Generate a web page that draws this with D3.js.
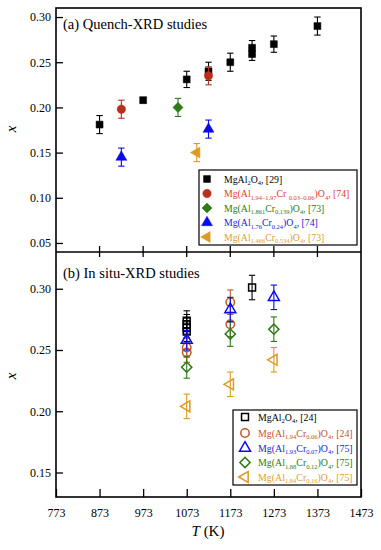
<!DOCTYPE html>
<html>
<head>
<meta charset="utf-8">
<script src="https://cdn.jsdelivr.net/npm/d3@7"></script>
<style>
  body { margin: 0; background: #fff; }
  svg { display: block; font-family: "Liberation Serif", "Times New Roman", serif; }
</style>
</head>
<body>
<svg id="chart" width="381" height="550"></svg>
<script>
// x axis ticks (K)
const tempTicks = [773, 873, 973, 1073, 1173, 1273, 1373, 1473];
const quenchTicks = [0.05, 0.10, 0.15, 0.20, 0.25, 0.30];
const insituTicks = [0.15, 0.20, 0.25, 0.30];

// (a) quench-XRD
const qMgAl2O4T = [873, 973, 1073, 1123, 1173, 1223, 1223, 1273, 1373];
const qMgAl2O4X = [0.181, 0.208, 0.231, 0.240, 0.250, 0.259, 0.266, 0.270, 0.290];
const qMgAl2O4E = [0.010, 0.003, 0.009, 0.010, 0.010, 0.007, 0.008, 0.009, 0.010];
const qCr006T = [923, 1123];
const qCr006X = [0.198, 0.235];
const qCr006E = [0.010, 0.010];
const qCr139T = [1053];
const qCr139X = [0.200];
const qCr139E = [0.010];
const qCr24T = [923, 1123];
const qCr24X = [0.145, 0.176];
const qCr24E = [0.010, 0.010];
const qCr534T = [1096];
const qCr534X = [0.150];
const qCr534E = [0.010];

// (b) in situ-XRD
const sMgAl2O4T = [1073, 1073, 1073, 1073, 1223];
const sMgAl2O4X = [0.274, 0.271, 0.268, 0.265, 0.301];
const sMgAl2O4E = [0.008, 0.008, 0.008, 0.008, 0.010];
const sCr06T = [1073, 1073, 1173, 1173];
const sCr06X = [0.252, 0.248, 0.289, 0.271];
const sCr06E = [0.008, 0.008, 0.010, 0.010];
const sCr07T = [1073, 1173, 1273];
const sCr07X = [0.258, 0.283, 0.293];
const sCr07E = [0.008, 0.010, 0.010];
const sCr12T = [1073, 1173, 1273];
const sCr12X = [0.236, 0.263, 0.267];
const sCr12E = [0.009, 0.010, 0.010];
const sCr16T = [1073, 1173, 1273];
const sCr16X = [0.204, 0.222, 0.242];
const sCr16E = [0.010, 0.010, 0.010];

const svg = d3.select('#chart');
const pLeft = 56, pRight = 361, pTop = 8, pMid = 252, pBottom = 497;

const x = d3.scaleLinear().domain([773, 1473]).range([pLeft, pRight]);
const ya = d3.scaleLinear().domain([0.04, 0.31]).range([pMid, pTop]);
const yb = d3.scaleLinear().domain([0.13, 0.33]).range([pBottom, pMid]);

const zip = (T, X, E) => T.map((t, i) => ({ t: t, x: X[i], e: E[i] }));

const shapes = {
    square: { type: d3.symbolSquare, size: 48, rot: 0 },
    circle: { type: d3.symbolCircle, size: 56, rot: 0 },
    diamond: { type: d3.symbolSquare, size: 52, rot: 45 },
    triangle: { type: d3.symbolTriangle, size: 52, rot: 0 },
    left: { type: d3.symbolTriangle, size: 52, rot: -90 }
};

const quenchSeries = [
    { name: 'sq', shape: 'square', color: '#000000', text: '#000000', pts: zip(qMgAl2O4T, qMgAl2O4X, qMgAl2O4E),
      label: [['MgAl'], ['2', 1], ['O'], ['4', 1], [', [29]']] },
    { name: 'ci', shape: 'circle', color: '#b8301c', text: '#d8402e', pts: zip(qCr006T, qCr006X, qCr006E),
      label: [['Mg(Al'], ['1.94\u20131.97', 1], ['Cr '], ['0.03\u20130.06', 1], [')O'], ['4', 1], [', [74]']] },
    { name: 'di', shape: 'diamond', color: '#2e7a16', text: '#2e7a16', pts: zip(qCr139T, qCr139X, qCr139E),
      label: [['Mg(Al'], ['1.861', 1], ['Cr'], ['0.139', 1], [')O'], ['4', 1], [', [73]']] },
    { name: 'tr', shape: 'triangle', color: '#0a0aee', text: '#1a1ae0', pts: zip(qCr24T, qCr24X, qCr24E),
      label: [['Mg(Al'], ['1.76', 1], ['Cr'], ['0.24', 1], [')O'], ['4', 1], [', [74]']] },
    { name: 'lt', shape: 'left', color: '#dc9a22', text: '#e0a030', pts: zip(qCr534T, qCr534X, qCr534E),
      label: [['Mg(Al'], ['1.466', 1], ['Cr'], ['0.534', 1], [')O'], ['4', 1], [', [73]']] }
];

const insituSeries = [
    { name: 'sq', shape: 'square', color: '#000000', text: '#000000', pts: zip(sMgAl2O4T, sMgAl2O4X, sMgAl2O4E),
      label: [['MgAl'], ['2', 1], ['O'], ['4', 1], [', [24]']] },
    { name: 'ci', shape: 'circle', color: '#c0582a', text: '#c8502e', pts: zip(sCr06T, sCr06X, sCr06E),
      label: [['Mg(Al'], ['1.94', 1], ['Cr'], ['0.06', 1], [')O'], ['4', 1], [', [24]']] },
    { name: 'di', shape: 'diamond', color: '#2e7a16', text: '#2e7a16', pts: zip(sCr12T, sCr12X, sCr12E),
      label: [['Mg(Al'], ['1.88', 1], ['Cr'], ['0.12', 1], [')O'], ['4', 1], [', [75]']] },
    { name: 'lt', shape: 'left', color: '#dc9a22', text: '#e0a030', pts: zip(sCr16T, sCr16X, sCr16E),
      label: [['Mg(Al'], ['1.84', 1], ['Cr'], ['0.16', 1], [')O'], ['4', 1], [', [75]']] },
    { name: 'tr', shape: 'triangle', color: '#0a0aee', text: '#1a1ae0', pts: zip(sCr07T, sCr07X, sCr07E),
      label: [['Mg(Al'], ['1.93', 1], ['Cr'], ['0.07', 1], [')O'], ['4', 1], [', [75]']] }
];
const insituLegendOrder = ['sq', 'ci', 'tr', 'di', 'lt'];

function symbolPath (shape) {
    return d3.symbol().type(shapes[shape].type).size(shapes[shape].size)();
}

function drawSeries (g, series, y, filled) {
    series.forEach(s => {
        const sg = g.append('g');
        const pts = sg.selectAll('g.pt').data(s.pts).enter().append('g').attr('class', 'pt');
        pts.append('line')
            .attr('x1', d => x(d.t)).attr('x2', d => x(d.t))
            .attr('y1', d => y(d.x - d.e)).attr('y2', d => y(d.x + d.e))
            .attr('stroke', s.color).attr('stroke-width', 1.1);
        [-1, 1].forEach(k => {
            pts.append('line')
                .attr('x1', d => x(d.t) - 3.2).attr('x2', d => x(d.t) + 3.2)
                .attr('y1', d => y(d.x + k * d.e)).attr('y2', d => y(d.x + k * d.e))
                .attr('stroke', s.color).attr('stroke-width', 1.1);
        });
        pts.append('path')
            .attr('d', symbolPath(s.shape))
            .attr('transform', d => `translate(${x(d.t)},${y(d.x)}) rotate(${shapes[s.shape].rot})`)
            .attr('fill', filled ? s.color : 'none')
            .attr('stroke', s.color)
            .attr('stroke-width', filled ? 0.5 : 1.5);
    });
}

// label parts: [text] or [text, 1] for a subscript
function legendText (el, parts, size) {
    parts.forEach((p, i) => {
        const prev = i > 0 ? (parts[i - 1][1] || 0) : 0;
        const cur = p[1] || 0;
        const t = el.append('tspan').text(p[0])
            .attr('dy', cur && !prev ? 2.5 : (!cur && prev ? -2.5 : 0));
        if (cur) t.attr('font-size', size * 0.66);
    });
}

function drawLegend (g, series, order, bx, by, bw, bh, mx, tx, ys, filled, fs) {
    g.append('rect').attr('x', bx).attr('y', by).attr('width', bw).attr('height', bh)
        .attr('fill', '#fff').attr('stroke', '#000').attr('stroke-width', 1.2);
    order.forEach((name, i) => {
        const s = series.find(d => d.name === name);
        g.append('path').attr('d', symbolPath(s.shape))
            .attr('transform', `translate(${mx},${ys[i]}) rotate(${shapes[s.shape].rot})`)
            .attr('fill', filled ? s.color : 'none')
            .attr('stroke', s.color).attr('stroke-width', filled ? 0.5 : 1.5);
        const t = g.append('text').attr('x', tx).attr('y', ys[i] + 3.5)
            .attr('font-size', fs).attr('fill', s.text);
        legendText(t, s.label, fs);
    });
}

// panel a
const ga = svg.append('g');
ga.append('g').attr('transform', `translate(${pLeft},0)`)
    .call(d3.axisLeft(ya).tickValues(quenchTicks).tickFormat(d3.format('.2f'))
        .tickSizeInner(-7).tickSizeOuter(0).tickPadding(5))
    .call(a => a.select('.domain').remove())
    .call(a => a.selectAll('text').attr('font-size', 12).attr('font-family', 'Liberation Serif'))
    .call(a => a.selectAll('line').attr('stroke-width', 1.3));
// crossing ticks on the divider
ga.append('g').selectAll('line').data(tempTicks.slice(1, -1)).enter().append('line')
    .attr('x1', d => x(d)).attr('x2', d => x(d))
    .attr('y1', pMid - 6).attr('y2', pMid + 5)
    .attr('stroke', '#000').attr('stroke-width', 1.3);

drawSeries(ga, quenchSeries, ya, true);
drawLegend(ga, quenchSeries, ['sq', 'ci', 'di', 'tr', 'lt'], 199, 170, 158, 75, 207, 224,
    [179, 193.5, 208, 222.5, 237], true, 9.8);

ga.append('text').attr('x', 63).attr('y', 29).attr('font-size', 14.5).text('(a) Quench-XRD studies');
ga.append('text').attr('transform', 'translate(16,129) rotate(-90)').attr('text-anchor', 'middle')
    .attr('font-size', 15).attr('font-style', 'italic').text('x');

// panel b
const gb = svg.append('g');
gb.append('g').attr('transform', `translate(${pLeft},0)`)
    .call(d3.axisLeft(yb).tickValues(insituTicks).tickFormat(d3.format('.2f'))
        .tickSizeInner(-7).tickSizeOuter(0).tickPadding(5))
    .call(a => a.select('.domain').remove())
    .call(a => a.selectAll('text').attr('font-size', 12).attr('font-family', 'Liberation Serif'))
    .call(a => a.selectAll('line').attr('stroke-width', 1.3));
gb.append('g').attr('transform', `translate(0,${pBottom})`)
    .call(d3.axisBottom(x).tickValues(tempTicks).tickFormat(d3.format('d'))
        .tickSizeInner(-8).tickSizeOuter(0).tickPadding(11))
    .call(a => a.select('.domain').remove())
    .call(a => a.selectAll('text').attr('font-size', 12).attr('font-family', 'Liberation Serif'))
    .call(a => a.selectAll('line').attr('stroke-width', 1.3));

drawSeries(gb, insituSeries, yb, false);
drawLegend(gb, insituSeries, insituLegendOrder, 233, 410, 124, 75, 245, 258,
    [417, 433, 448, 462.5, 477], false, 9.9);

gb.append('text').attr('x', 63).attr('y', 278).attr('font-size', 14.5).text('(b) In situ-XRD studies');
gb.append('text').attr('transform', 'translate(16,376) rotate(-90)').attr('text-anchor', 'middle')
    .attr('font-size', 15).attr('font-style', 'italic').text('x');
const xl = gb.append('text').attr('x', 208).attr('y', 536).attr('text-anchor', 'middle').attr('font-size', 15);
xl.append('tspan').attr('font-style', 'italic').text('T');
xl.append('tspan').text(' (K)');

// frame
svg.append('rect').attr('x', pLeft).attr('y', pTop).attr('width', pRight - pLeft).attr('height', pBottom - pTop)
    .attr('fill', 'none').attr('stroke', '#000').attr('stroke-width', 1.6);
svg.append('line').attr('x1', pLeft).attr('x2', pRight).attr('y1', pMid).attr('y2', pMid)
    .attr('stroke', '#000').attr('stroke-width', 1.6);
</script>
</body>
</html>
